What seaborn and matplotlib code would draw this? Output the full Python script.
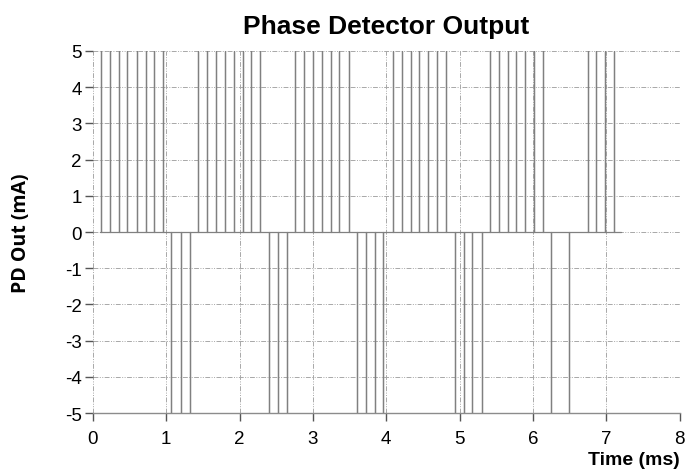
"""Phase detector output: charge-pump current pulses over time."""

import matplotlib
matplotlib.use("Agg")
import matplotlib.pyplot as plt
import pandas as pd
import seaborn as sns

# pulse times (ms)
POS_PULSES = [0.11, 0.23, 0.35, 0.47, 0.60, 0.72, 0.83, 0.96,
              1.43, 1.55, 1.68, 1.80, 1.92, 2.04, 2.16, 2.28,
              2.76, 2.88, 3.00, 3.12, 3.25, 3.36, 3.49,
              4.09, 4.21, 4.33, 4.45, 4.57, 4.69, 4.81,
              5.41, 5.54, 5.66, 5.77, 5.89, 6.01, 6.14,
              6.75, 6.86, 6.98, 7.11]
NEG_PULSES = [1.07, 1.20, 1.32, 2.40, 2.52, 2.64,
              3.60, 3.72, 3.84, 3.96, 4.94, 5.06, 5.17, 5.31,
              6.25, 6.49]
PULSE_MA = 5.0
T_START, T_END = 0.10, 7.20

X_TICKS = list(range(0, 9))
Y_TICKS = list(range(-5, 6))


def build_trace() -> pd.DataFrame:
    events = sorted([(t, PULSE_MA) for t in POS_PULSES] +
                    [(t, -PULSE_MA) for t in NEG_PULSES])
    rows = [(T_START, 0.0)]
    for t, amp in events:
        rows += [(t, 0.0), (t, amp), (t, 0.0)]
    rows.append((T_END, 0.0))
    return pd.DataFrame(rows, columns=["time", "current"])


def main() -> None:
    sns.set_style("white")
    plt.rcParams["font.family"] = ["Liberation Sans", "DejaVu Sans"]
    plt.rcParams["axes.unicode_minus"] = False
    plt.rcParams["text.color"] = "black"
    plt.rcParams["axes.labelcolor"] = "black"

    df = build_trace()
    fig, ax = plt.subplots(figsize=(6.88, 4.77), dpi=100)
    fig.subplots_adjust(left=0.135, right=0.988, top=0.891, bottom=0.132)

    sns.lineplot(data=df, x="time", y="current", sort=False, estimator=None,
                 color="#808080", linewidth=0.9, ax=ax, zorder=3)

    ax.set_xlim(0, 8)
    ax.set_ylim(-5, 5)
    ax.set_xticks(X_TICKS)
    ax.set_yticks(Y_TICKS)
    ax.grid(True, color="#a8a8a8", linewidth=0.7,
            linestyle=(0, (5, 1.5, 1, 1.5, 1, 1.5)))
    for side in ["top", "right", "left"]:
        ax.spines[side].set_visible(False)
    ax.spines["bottom"].set_color("#8c8c8c")
    ax.spines["bottom"].set_linewidth(1.0)
    ax.tick_params(axis="both", direction="out", length=6, width=1,
                   color="#555555", labelsize=13.5, labelcolor="black",
                   left=True, bottom=True)
    ax.tick_params(axis="x", pad=6)
    ax.tick_params(axis="y", pad=2)

    ax.set_title("Phase Detector Output", fontsize=19, fontweight="bold",
                 color="black", pad=13)
    ax.set_ylabel("PD Out (mA)", fontsize=14, fontweight="bold",
                  family=["Open Sans", "DejaVu Sans"])
    ax.yaxis.set_label_coords(-0.105, 0.5)
    ax.set_xlabel("Time (ms)", fontsize=14, fontweight="bold")
    ax.xaxis.set_label_coords(1.0, -0.105)
    ax.xaxis.label.set_horizontalalignment("right")
    ax.xaxis.label.set_verticalalignment("top")

    fig.savefig("out.png", dpi=100)
    plt.close(fig)


if __name__ == "__main__":
    main()
